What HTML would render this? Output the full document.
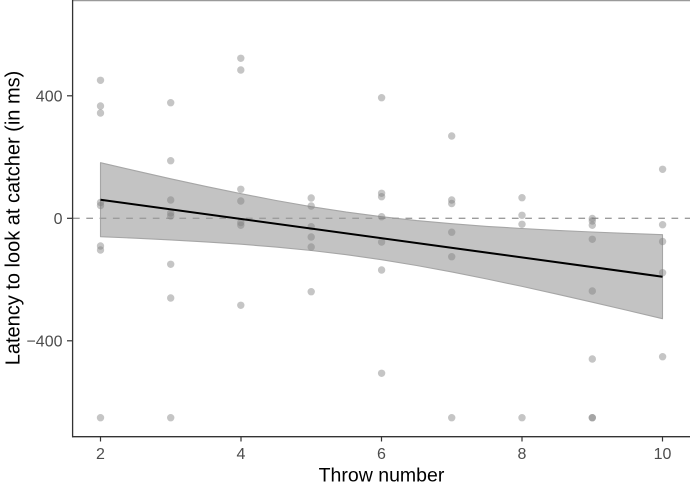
<!DOCTYPE html>
<html>
<head>
<meta charset="utf-8">
<style>
html,body{margin:0;padding:0;background:#fff;}
svg{display:block;}
text{font-family:"Liberation Sans",Arial,sans-serif;}
</style>
</head>
<body>
<svg width="690" height="488" viewBox="0 0 690 488" xmlns="http://www.w3.org/2000/svg">
<rect x="0" y="0" width="690" height="488" fill="#fff"/>
<line x1="72.5" y1="0.6" x2="690" y2="0.6" stroke="#9a9a9a" stroke-width="1.2"/>
<path fill="#c3c3c3" stroke="#a6a6a6" stroke-width="1.1" stroke-linejoin="round" d="M100.5,162.7 L135.6,170.8 L170.75,178.8 L205.9,186.4 L241.0,193.7 L276.1,200.5 L311.25,206.7 L346.4,212.1 L381.5,216.7 L416.6,220.6 L451.75,223.7 L486.9,226.4 L522.0,228.5 L557.1,230.4 L592.25,232.0 L627.4,233.4 L662.5,234.7 L662.5,318.7 L627.4,310.4 L592.25,302.2 L557.1,294.2 L522.0,286.4 L486.9,279.0 L451.75,271.9 L416.6,265.5 L381.5,259.7 L346.4,254.7 L311.25,250.5 L276.1,247.1 L241.0,244.2 L205.9,241.9 L170.75,239.9 L135.6,238.2 L100.5,236.7 Z"/>
<line x1="73" y1="218.3" x2="690" y2="218.3" stroke="#9c9c9c" stroke-width="1.3" stroke-dasharray="6.7 6.6"/>
<g fill="#7f7f7f" fill-opacity="0.45">
<circle cx="100.5" cy="80.3" r="3.7"/>
<circle cx="100.5" cy="106" r="3.7"/>
<circle cx="100.5" cy="113" r="3.7"/>
<circle cx="100.5" cy="202.5" r="3.7"/>
<circle cx="100.5" cy="205.5" r="3.7"/>
<circle cx="100.5" cy="246" r="3.7"/>
<circle cx="100.5" cy="250" r="3.7"/>
<circle cx="100.5" cy="417.7" r="3.7"/>
<circle cx="170.7" cy="102.7" r="3.7"/>
<circle cx="170.7" cy="160.7" r="3.7"/>
<circle cx="170.7" cy="200" r="3.7"/>
<circle cx="170.7" cy="213" r="3.7"/>
<circle cx="170.7" cy="216" r="3.7"/>
<circle cx="170.7" cy="264.3" r="3.7"/>
<circle cx="170.7" cy="298" r="3.7"/>
<circle cx="170.7" cy="417.7" r="3.7"/>
<circle cx="240.8" cy="58.3" r="3.7"/>
<circle cx="240.8" cy="70" r="3.7"/>
<circle cx="240.8" cy="189.3" r="3.7"/>
<circle cx="240.8" cy="201" r="3.7"/>
<circle cx="240.8" cy="222.5" r="3.7"/>
<circle cx="240.8" cy="225.3" r="3.7"/>
<circle cx="240.8" cy="305.3" r="3.7"/>
<circle cx="311.2" cy="198" r="3.7"/>
<circle cx="311.2" cy="206" r="3.7"/>
<circle cx="311.2" cy="226.7" r="3.7"/>
<circle cx="311.2" cy="237" r="3.7"/>
<circle cx="311.2" cy="247" r="3.7"/>
<circle cx="311.2" cy="291.7" r="3.7"/>
<circle cx="381.6" cy="97.7" r="3.7"/>
<circle cx="381.6" cy="193.3" r="3.7"/>
<circle cx="381.6" cy="196.7" r="3.7"/>
<circle cx="381.6" cy="216.7" r="3.7"/>
<circle cx="381.6" cy="242" r="3.7"/>
<circle cx="381.6" cy="270" r="3.7"/>
<circle cx="381.6" cy="373.3" r="3.7"/>
<circle cx="451.7" cy="136" r="3.7"/>
<circle cx="451.7" cy="200" r="3.7"/>
<circle cx="451.7" cy="203.5" r="3.7"/>
<circle cx="451.7" cy="232.2" r="3.7"/>
<circle cx="451.7" cy="256.7" r="3.7"/>
<circle cx="451.7" cy="417.7" r="3.7"/>
<circle cx="522" cy="197.7" r="3.7"/>
<circle cx="522" cy="215.3" r="3.7"/>
<circle cx="522" cy="224.3" r="3.7"/>
<circle cx="522" cy="417.7" r="3.7"/>
<circle cx="592.3" cy="218.5" r="3.7"/>
<circle cx="592.3" cy="221" r="3.7"/>
<circle cx="592.3" cy="225.3" r="3.7"/>
<circle cx="592.3" cy="239.3" r="3.7"/>
<circle cx="592.3" cy="291" r="3.7"/>
<circle cx="592.3" cy="359" r="3.7"/>
<circle cx="592.3" cy="417.7" r="3.7"/>
<circle cx="592.3" cy="417.7" r="3.7"/>
<circle cx="662.6" cy="169.3" r="3.7"/>
<circle cx="662.6" cy="224.7" r="3.7"/>
<circle cx="662.6" cy="241.5" r="3.7"/>
<circle cx="662.6" cy="272.7" r="3.7"/>
<circle cx="662.6" cy="356.7" r="3.7"/>
</g>
<line x1="100.5" y1="199.7" x2="662.5" y2="276.7" stroke="#000" stroke-width="2"/>
<line x1="72.6" y1="0" x2="72.6" y2="437.3" stroke="#333" stroke-width="1.3"/>
<line x1="72" y1="436.7" x2="690" y2="436.7" stroke="#333" stroke-width="1.3"/>
<g stroke="#333" stroke-width="1.2">
<line x1="67" y1="95.8" x2="72.6" y2="95.8"/>
<line x1="67" y1="218.3" x2="72.6" y2="218.3"/>
<line x1="67" y1="340.8" x2="72.6" y2="340.8"/>
</g>
<g font-size="16" fill="#4d4d4d" text-anchor="end">
<text x="62.5" y="101.6">400</text>
<text x="62.5" y="224.1">0</text>
<text x="62.5" y="346.6">−400</text>
</g>
<g stroke="#333" stroke-width="1.2">
<line x1="100.5" y1="436.7" x2="100.5" y2="441.5"/>
<line x1="241" y1="436.7" x2="241" y2="441.5"/>
<line x1="381.5" y1="436.7" x2="381.5" y2="441.5"/>
<line x1="522" y1="436.7" x2="522" y2="441.5"/>
<line x1="662.5" y1="436.7" x2="662.5" y2="441.5"/>
</g>
<g font-size="16" fill="#4d4d4d" text-anchor="middle">
<text x="100.5" y="459">2</text>
<text x="241" y="459">4</text>
<text x="381.5" y="459">6</text>
<text x="522" y="459">8</text>
<text x="662.5" y="459">10</text>
</g>
<text x="381.5" y="481.7" font-size="19.5" fill="#000" text-anchor="middle">Throw number</text>
<text transform="translate(19.5,218) rotate(-90)" x="0" y="0" font-size="20" fill="#000" text-anchor="middle">Latency to look at catcher (in ms)</text>
</svg>
</body>
</html>
